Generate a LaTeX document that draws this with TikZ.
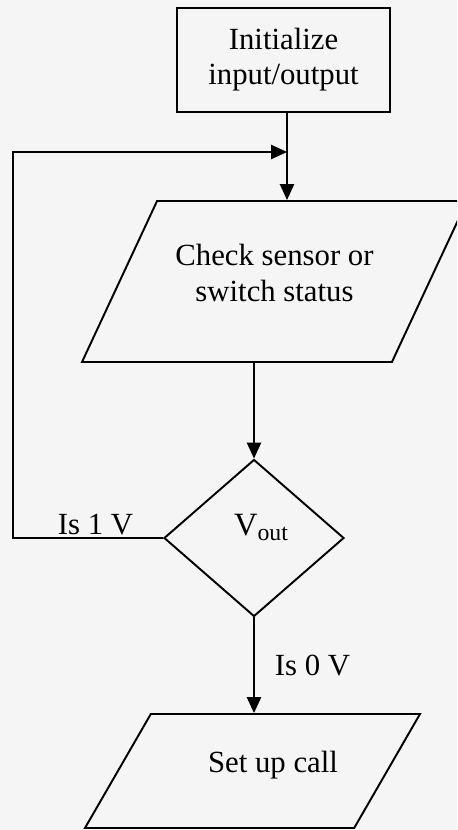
\documentclass[tikz,border=0pt]{standalone}
\usepackage{fontspec}
\setmainfont{Liberation Serif}
\usetikzlibrary{shapes.geometric,arrows.meta}
\begin{document}
\begin{tikzpicture}[
    line width=1.1pt,
    every node/.style = {font=\fontsize{17.5}{20}\selectfont},
    box/.style   = {draw, rectangle, align=center, minimum width=4.26cm,
                    minimum height=2.08cm, inner sep=2pt},
    io/.style    = {draw, trapezium, trapezium stretches body=true,
                    align=center, inner xsep=2pt, inner ysep=0pt},
    dec/.style   = {draw, diamond, minimum width=3.6cm, minimum height=3.14cm,
                    inner sep=0pt},
    flow/.style  = {-{Triangle[length=9pt,width=8pt]}},
    lbl/.style   = {inner sep=1pt},
  ]
    \useasboundingbox (0,0) rectangle (9.14,-16.6);
    \fill[black!4] (0,0) rectangle (9.14,-16.6);
    \clip (0,0) rectangle (9.14,-16.6);

    \node[box] (init)  at (5.67,-1.20)  {Initialize\\input/output};
    \node[io, trapezium left angle=65, trapezium right angle=115,
          minimum width=7.70cm, text height=2.0cm, text depth=1.22cm]
          (check) at (5.49,-5.63) {Check sensor or\\switch status};
    \node[dec, label={[xshift=4pt,yshift=6pt]center:\fontsize{18.5}{20}\selectfont
          V\raisebox{-2.3pt}{\fontsize{13.5}{14}\selectfont out}}]
          (vout)  at (5.08,-10.76) {};
    \node[io, trapezium left angle=60, trapezium right angle=120,
          minimum width=6.70cm, text height=1.18cm, text depth=1.10cm,
          label={[xshift=0.41cm,yshift=0.11cm]center:Set up call}]
          (call)  at (5.05,-15.42) {};

    \coordinate (join)   at (5.74,-3.04);
    \coordinate (corner) at (0.26,-3.04);

    \draw[flow] (init.south -| join) -- (join |- check.north);
    \draw[flow] (check.south -| vout.north) -- (vout.north);
    \draw[flow] (vout.west) -- node[lbl, above, pos=0.45] {Is 1 V}
                (vout.west -| corner) |- (join);
    \draw[flow] (vout.south) -- node[right=8pt] {Is 0 V}
                (call.north -| vout.south);
  \end{tikzpicture}
\end{document}
